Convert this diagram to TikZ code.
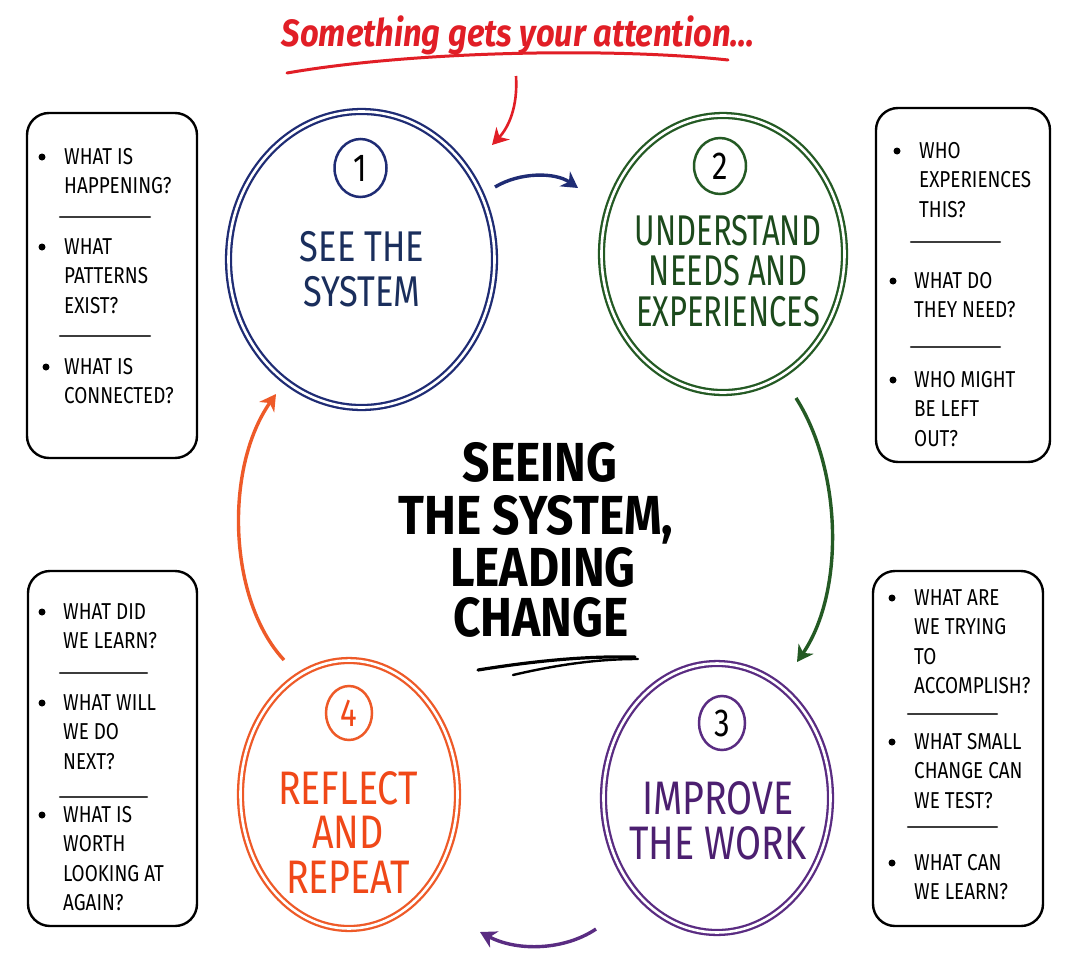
\documentclass[tikz,border=0pt]{standalone}
\usepackage{fontspec}
\setmainfont{Fira Sans}
\newfontfamily\lblf{Fira Sans}[FakeStretch=0.8]
\newfontfamily\lblnf{Fira Sans}[FakeStretch=0.72]
\newfontfamily\boxf{Fira Sans}[FakeStretch=0.82]
\newfontfamily\ttlf{Fira Sans}[FakeStretch=0.87]
\newfontfamily\redf{Fira Sans}[FakeStretch=0.86]
\usetikzlibrary{shapes.geometric,arrows.meta}
\definecolor{cnavy}{HTML}{1F2C74}
\definecolor{tnavy}{HTML}{1A2E5C}
\definecolor{cgreen}{HTML}{245A24}
\definecolor{tgreen}{HTML}{1C4A1C}
\definecolor{cpurple}{HTML}{5A2C82}
\definecolor{tpurple}{HTML}{4C1F70}
\definecolor{corange}{HTML}{EE5A28}
\definecolor{torange}{HTML}{F04818}
\definecolor{cred}{HTML}{E11E26}
\definecolor{sepgray}{HTML}{3C3C3C}
\tikzset{
  ring/.style={ellipse, inner sep=0pt, line width=2.3pt, double=white, double distance=2.6pt},
  numc/.style={ellipse, inner sep=0pt, line width=2.5pt, draw, font=\lblf\fontsize{39}{39}\selectfont},
  lbl/.style={align=center, anchor=base, inner sep=0pt},
  qbox/.style={draw=black, line width=2.4pt, rounded corners=22pt},
  qtxt/.style={align=left, anchor=base west, inner sep=0pt, font=\boxf\fontsize{23}{29.6}\selectfont},
  bul/.style={circle, fill=black, inner sep=0pt, minimum size=7pt},
  sepl/.style={draw=sepgray, line width=2.4pt, line cap=round},
  ttl/.style={anchor=base, inner sep=0pt, font=\ttlf\bfseries\fontsize{55}{55}\selectfont},
  arr/.style={line width=3.4pt, -{Stealth[length=16pt,width=18pt,inset=5pt]}}
}
\begin{document}
\begin{tikzpicture}[x=1pt,y=-1pt]
\useasboundingbox (0,0) rectangle (1080,977);
\fill[white] (0,0) rectangle (1080,977);

% heading
\node[anchor=base, inner sep=0pt, text=cred, font=\redf\bfseries\itshape\fontsize{38}{38}\selectfont] (head) at (518,46) {Something gets your attention...};
\draw[cred, line width=3pt, line cap=round] (287,73) .. controls (420,50) and (620,48) .. (728,60);

% main rings
\node[ring, draw=cnavy, minimum width=266, minimum height=296] (c1) at (361.5,259.5) {};
\node[ring, draw=cgreen, minimum width=243, minimum height=277] (c2) at (723,254) {};
\node[ring, draw=cpurple, minimum width=227, minimum height=269] (c3) at (717,798) {};
\node[ring, draw=corange, minimum width=217, minimum height=268] (c4) at (349,794.5) {};

% number circles
\node[numc, draw=cnavy, minimum width=52, minimum height=58] (n1) at (360.5,168) {1};
\node[numc, draw=cgreen, minimum width=52, minimum height=56] (n2) at (720,166) {2};
\node[numc, draw=cpurple, minimum width=46, minimum height=54] (n3) at (722,723) {3};
\node[numc, draw=corange, text=torange, minimum width=46, minimum height=54] (n4) at (349,713) {4};

% ring labels (anchor = baseline of last line)
\node[lbl, text=tnavy, font=\lblf\fontsize{43}{45}\selectfont] (l1) at (362,306) {SEE THE\\SYSTEM};
\node[lbl, text=tgreen, font=\lblnf\fontsize{43}{40.5}\selectfont] (l2) at (728,326) {UNDERSTAND\\NEEDS AND\\EXPERIENCES};
\node[lbl, text=tpurple, font=\lblf\fontsize{47}{45}\selectfont] (l3) at (718,859) {IMPROVE\\THE WORK};
\node[lbl, text=torange, font=\lblf\fontsize{47}{44.5}\selectfont] (l4) at (348,893) {REFLECT\\AND\\REPEAT};

% centre title
\node[ttl] (t1) at (540,481) {SEEING};
\node[ttl] (t2) at (536,534) {THE SYSTEM,};
\node[ttl] (t3) at (543,586) {LEADING};
\node[ttl] (t4) at (541,636) {CHANGE};
\draw[line width=3.2pt, line cap=round] (478,670) .. controls (540,660) and (590,656) .. (635,657);
\draw[line width=2.4pt, line cap=round] (513,675) .. controls (560,664) and (600,659) .. (638,659);

% question boxes
\draw[qbox] (27,113) rectangle (197,458);
\draw[qbox] (876,108) rectangle (1050,462);
\draw[qbox] (28,571) rectangle (197,926);
\draw[qbox] (873,571) rectangle (1043,926);

% box 1
\node[bul] (b11) at (42,157) {};
\node[qtxt] (q11) at (64,193.6) {WHAT IS\\HAPPENING?};
\draw[sepl] (60,217) -- (150,217);
\node[bul] (b12) at (42,247) {};
\node[qtxt] (q12) at (64,313.2) {WHAT\\PATTERNS\\EXIST?};
\draw[sepl] (60,336) -- (150,336);
\node[bul] (b13) at (46,367) {};
\node[qtxt] (q13) at (64,403.6) {WHAT IS\\CONNECTED?};

% box 2
\node[bul] (b21) at (897,151) {};
\node[qtxt] (q21) at (919,217.2) {WHO\\EXPERIENCES\\THIS?};
\draw[sepl] (911,242) -- (1000,242);
\node[bul] (b22) at (893,281) {};
\node[qtxt] (q22) at (914,317.6) {WHAT DO\\THEY NEED?};
\draw[sepl] (911,347) -- (1000,347);
\node[bul] (b23) at (893,380) {};
\node[qtxt] (q23) at (914,446.2) {WHO MIGHT\\BE LEFT\\OUT?};

% box 4 (left bottom)
\node[bul] (b41) at (42,612) {};
\node[qtxt] (q41) at (63,648.6) {WHAT DID\\WE LEARN?};
\draw[sepl] (60,673) -- (147,673);
\node[bul] (b42) at (42,703) {};
\node[qtxt] (q42) at (63,769.2) {WHAT WILL\\WE DO\\NEXT?};
\draw[sepl] (60,797) -- (147,797);
\node[bul] (b43) at (42,815) {};
\node[qtxt] (q43) at (63,910.8) {WHAT IS\\WORTH\\LOOKING AT\\AGAIN?};

% box 3 (right bottom)
\node[bul] (b31) at (892,598) {};
\node[qtxt] (q31) at (914,693.8) {WHAT ARE\\WE TRYING\\TO\\ACCOMPLISH?};
\draw[sepl] (908,714) -- (997,714);
\node[bul] (b32) at (892,742) {};
\node[qtxt] (q32) at (914,808.2) {WHAT SMALL\\CHANGE CAN\\WE TEST?};
\draw[sepl] (908,827) -- (997,827);
\node[bul] (b33) at (892,863) {};
\node[qtxt] (q33) at (914,899.6) {WHAT CAN\\WE LEARN?};

% arrow end coordinates
\coordinate (a0s) at (516,76);
\coordinate (a0e) at (492,145);
\coordinate (a1s) at (495,187);
\coordinate (a1e) at (578,188);
\coordinate (a2s) at (796,398);
\coordinate (a2e) at (797,662);
\coordinate (a3s) at (596,929);
\coordinate (a3e) at (480,932);
\coordinate (a4s) at (284,660);
\coordinate (a4e) at (276,394);

% arrows
\draw[arr, cred, line width=2.6pt] (a0s) .. controls (518,108) and (508,128) .. (a0e);
\draw[arr, cnavy] (a1s) .. controls (520,172) and (555,172) .. (a1e);
\draw[arr, cgreen] (a2s) .. controls (842,470) and (845,592) .. (a2e);
\draw[arr, cpurple] (a3s) .. controls (565,950) and (518,952) .. (a3e);
\draw[arr, corange] (a4s) .. controls (228,600) and (224,468) .. (a4e);
\end{tikzpicture}
\end{document}
